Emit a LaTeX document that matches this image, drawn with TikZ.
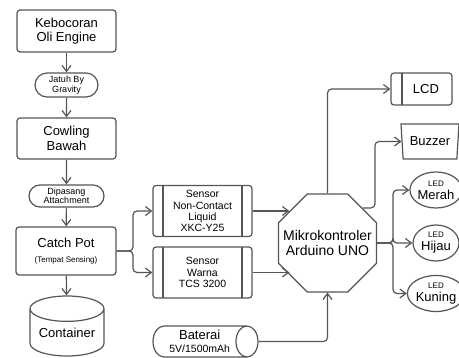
\documentclass[tikz,border=0pt]{standalone}
\usepackage{fontspec}
\setmainfont{Liberation Sans}
\usetikzlibrary{arrows.meta,shapes.geometric,shapes.misc}
\definecolor{linegray}{HTML}{555555}
\tikzset{
  box/.style={draw=linegray, line width=1.2pt, rounded corners=3pt, fill=white, align=center, inner sep=0pt, font=\fontsize{13}{14.5}\selectfont},
  pill/.style={draw=linegray, line width=1.2pt, rounded rectangle, fill=white, align=center, inner sep=0pt, font=\fontsize{9}{9.5}\selectfont},
  tank/.style={draw=linegray, line width=1.2pt, cylinder, anchor=shape center, fill=white, align=center, inner sep=0pt},
  sensorbox/.style={box, minimum width=99pt, minimum height=51pt, font=\fontsize{10.5}{11.2}\selectfont,
    path picture={
      \draw[linegray, line width=1.2pt] ([xshift=10pt]path picture bounding box.north west) -- ([xshift=10pt]path picture bounding box.south west);
      \draw[linegray, line width=1.2pt] ([xshift=-10pt]path picture bounding box.north east) -- ([xshift=-10pt]path picture bounding box.south east);
    }},
  lcdbox/.style={box, minimum width=61pt, minimum height=32pt,
    path picture={
      \draw[linegray, line width=1.2pt] ([xshift=11pt]path picture bounding box.north west) -- ([xshift=11pt]path picture bounding box.south west);
    }},
  mcu/.style={draw=linegray, line width=1.2pt, regular polygon, regular polygon sides=8, minimum size=106pt, fill=white, inner sep=0pt},
  horn/.style={draw=linegray, line width=1.2pt, trapezium, shape border rotate=180, trapezium angle=80, trapezium stretches,
    minimum width=58pt, minimum height=35pt, fill=white, inner sep=0pt, font=\fontsize{13}{14.5}\selectfont},
  led/.style={draw=linegray, line width=1.2pt, ellipse, minimum width=46pt, minimum height=36pt, fill=white, align=center, inner sep=0pt, font=\fontsize{13}{13}\selectfont},
  arr/.style={draw=linegray, line width=1.2pt, rounded corners=4pt, -{Straight Barb[length=6pt,width=9pt]}}
}
\newcommand{\smalltxt}[1]{{\fontsize{8}{9}\selectfont #1}}
\begin{document}
\begin{tikzpicture}[x=1pt,y=-1pt]
  \useasboundingbox (0,0) rectangle (459,358);

  % alur oli
  \node[box, minimum width=99pt, minimum height=42pt] (kebocoran) at (66.5,31) {Kebocoran\\Oli Engine};
  \node[pill, minimum width=63pt, minimum height=24pt] (jatuh) at (66.5,85) {Jatuh By\\Gravity};
  \node[box, minimum width=99pt, minimum height=41pt] (cowling) at (66.5,138.5) {Cowling\\Bawah};
  \node[pill, minimum width=75pt, minimum height=22pt] (dipasang) at (66.5,196) {Dipasang\\Attachment};
  \node[box, minimum width=100pt, minimum height=48pt] (catchpot) at (66,251) {Catch Pot\\\smalltxt{(Tempat Sensing)}};
  \node[tank, shape border rotate=90, aspect=0.45, minimum width=74pt, minimum height=60pt, font=\fontsize{13}{14.5}\selectfont] (container) at (67,326) {Container};

  % sensor
  \node[sensorbox] (noncontact) at (202.5,211) {Sensor\\Non-Contact\\Liquid\\XKC-Y25};
  \node[sensorbox] (warna) at (202.5,272.5) {Sensor\\Warna\\TCS 3200};
  \node[tank, aspect=1.0, minimum width=31pt, minimum height=105pt, font=\fontsize{13}{12.5}\selectfont] (baterai) at (205.5,341.5) {Baterai\\{\fontsize{10.5}{12}\selectfont 5V/1500mAh}};

  % kontroler dan output
  \node[mcu, label={[align=center, font=\fontsize{14}{15}\selectfont]center:{Mikrokontroler\\Arduino UNO}}] (arduino) at (327.5,243) {};
  \node[lcdbox] (lcd) at (421.5,89) {\hspace*{9pt}LCD};
  \node[horn] (buzzer) at (430,141.5) {Buzzer};
  \node[led] (merah) at (436,190) {\smalltxt{LED}\\Merah};
  \node[led] (hijau) at (436,243) {\smalltxt{LED}\\Hijau};
  \node[led] (kuning) at (436,293.5) {\smalltxt{LED}\\Kuning};

  \coordinate (sensfork) at (133,251);
  \coordinate (buzfork) at (375,207);
  \coordinate (ledfork) at (393,243);

  \draw[arr] (kebocoran) -- (jatuh);
  \draw[arr] (jatuh) -- (cowling);
  \draw[arr] (cowling) -- (dipasang);
  \draw[arr] (dipasang) -- (catchpot);
  \draw[arr] (catchpot) -- (container);
  \draw[arr] (catchpot.east) -- (sensfork) |- (noncontact.west);
  \draw[arr] (catchpot.east) -- (sensfork) |- (warna.west);
  \draw[arr] (noncontact.east) -- (noncontact.east -| arduino.140);
  \draw[arr] (warna.east) -- (warna.east -| arduino.220);
  \draw[arr] (baterai.east) -| (arduino.south);
  \draw[arr] (arduino.north) |- (lcd.west);
  \draw[arr] (arduino.45) -- (arduino.45 -| buzfork) |- (buzzer.west);
  \draw[arr] (arduino.east) -- (ledfork) |- (merah.west);
  \draw[arr] (arduino.east) -- (ledfork) |- (hijau.west);
  \draw[arr] (arduino.east) -- (ledfork) |- (kuning.west);
\end{tikzpicture}
\end{document}
